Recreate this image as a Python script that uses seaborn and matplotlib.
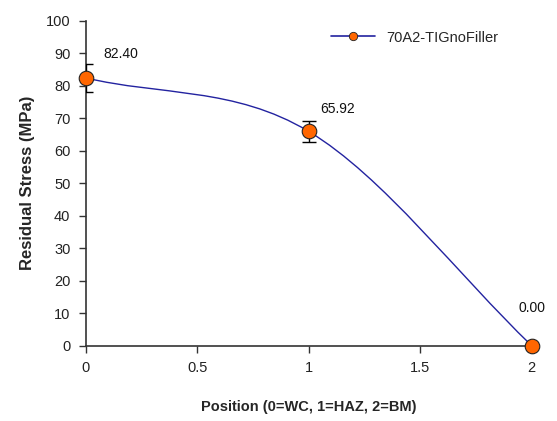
import numpy as np
import matplotlib
matplotlib.use("Agg")
import matplotlib.pyplot as plt
from matplotlib.path import Path
from matplotlib.patches import PathPatch
from matplotlib.lines import Line2D
import seaborn as sns

# Datos
position = [0, 1, 2]
stress = [82.40, 65.92, 0.00]
stress_err = [4.2, 3.2, 0.0]
labels = ["82.40", "65.92", "0.00"]
series_name = "70A2-TIGnoFiller"

sns.set_style("ticks")
plt.rcParams['font.family'] = ['Liberation Sans', 'DejaVu Sans']

line_color = '#2323a0'
marker_color = '#ff6600'

fig = plt.figure(figsize=(5.57, 4.21), dpi=100)
ax = fig.add_axes([0.1539, 0.1789, 0.8007, 0.772])

# Curva suavizada estilo Excel (Bezier por tramos, tangentes tipo Catmull-Rom)
x = np.array(position, dtype=float)
y = np.array(stress, dtype=float)
pts = np.column_stack([x, y])
n = len(pts)
tang = np.zeros_like(pts)
for i in range(n):
    if i == 0:
        tang[i] = (pts[1] - pts[0])
    elif i == n - 1:
        tang[i] = (pts[-1] - pts[-2])
    else:
        tang[i] = (pts[i + 1] - pts[i - 1]) / 2
verts = [pts[0]]
codes = [Path.MOVETO]
for i in range(n - 1):
    c1 = pts[i] + tang[i] / 3
    c2 = pts[i + 1] - tang[i + 1] / 3
    verts += [c1, c2, pts[i + 1]]
    codes += [Path.CURVE4] * 3
ax.add_patch(PathPatch(Path(verts, codes), facecolor='none',
                       edgecolor=line_color, linewidth=1.0, zorder=2))

# Barras de error
ax.errorbar(position, stress, yerr=stress_err, fmt='none', ecolor='black',
            elinewidth=1.0, capsize=5, capthick=1.0, zorder=3)

# Marcadores
sns.scatterplot(x=position, y=stress, ax=ax, s=110, color=marker_color,
                edgecolor='#222222', linewidth=0.8, zorder=4, clip_on=False,
                legend=False)

# Etiquetas de datos
offsets = [(25, 17), (21, 16), (0, 27)]
for xi, yi, lab, off in zip(position, stress, labels, offsets):
    ax.annotate(lab, (xi, yi), xytext=off, textcoords='offset points',
                ha='center', va='center', fontsize=10, color='#111111')

ax.set_xlim(0, 2)
ax.set_ylim(0, 100)
ax.set_xticks([0, 0.5, 1, 1.5, 2])
ax.set_xticklabels(['0', '0.5', '1', '1.5', '2'])
ax.set_yticks(np.arange(0, 101, 10))

for side in ['top', 'right']:
    ax.spines[side].set_visible(False)
for side in ['left', 'bottom']:
    ax.spines[side].set_color('#333333')
    ax.spines[side].set_linewidth(1.2)
ax.tick_params(axis='both', direction='out', length=5, width=1.0,
               color='#333333', labelsize=10.5, labelcolor='#222222', pad=6)

ax.set_xlabel("Position (0=WC, 1=HAZ, 2=BM)", fontsize=10.5, fontweight='bold',
              labelpad=18)
ax.set_ylabel("Residual Stress (MPa)", fontsize=12, fontweight='bold',
              labelpad=8)

handle = Line2D([], [], color=line_color, linewidth=1.2, marker='o',
                markersize=6, markerfacecolor=marker_color,
                markeredgecolor='#222222', markeredgewidth=0.6)
ax.legend([handle], [series_name], loc='upper right', frameon=False,
          fontsize=10.5, handlelength=3, bbox_to_anchor=(0.955, 1.01))

fig.savefig("out.png", dpi=100)
